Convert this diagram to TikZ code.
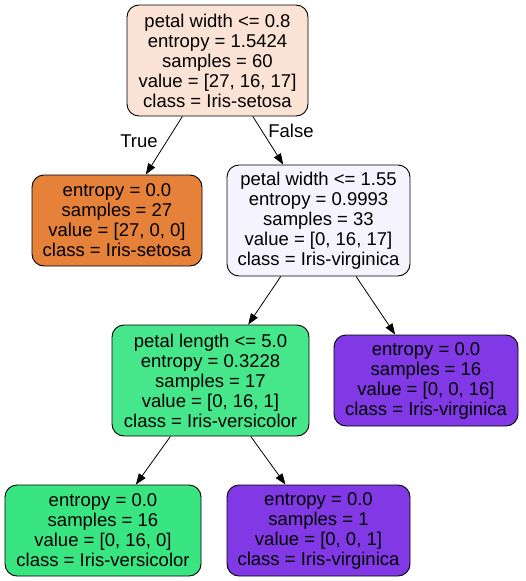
\documentclass[tikz,border=0pt]{standalone}
\usepackage{fontspec}
\setmainfont{Liberation Sans}
\usetikzlibrary{arrows.meta}
\definecolor{rootfill}{HTML}{FAE2D4}
\definecolor{setosa}{HTML}{E58139}
\definecolor{mixfill}{HTML}{F5F3FD}
\definecolor{mixgreen}{HTML}{46E78B}
\definecolor{versicolor}{HTML}{39E581}
\definecolor{virginica}{HTML}{8139E5}
\tikzset{
    treenode/.style={draw=black, line width=0.9pt, rounded corners=12pt,
        align=center, inner xsep=0pt, inner ysep=6.5pt,
        font=\fontsize{18.5}{20}\selectfont},
    split/.style={treenode, minimum height=111pt},
    leaf/.style={treenode, minimum height=91pt},
    edgelab/.style={font=\fontsize{18.5}{20}\selectfont, inner sep=0pt}
}
\begin{document}
\begin{tikzpicture}[x=1pt,y=-1pt,>={Triangle[length=11pt,width=8pt]},line width=0.8pt]
    \useasboundingbox (0,0) rectangle (525,581);
    % split nodes
    \node[split, fill=rootfill, minimum width=181pt] (root) at (217.5,60.5)
        {petal width <= 0.8\\entropy = 1.5424\\samples = 60\\value = [27, 16, 17]\\class = Iris-setosa};
    \node[split, fill=mixfill, minimum width=183pt] (pwidth) at (318.5,220.5)
        {petal width <= 1.55\\entropy = 0.9993\\samples = 33\\value = [0, 16, 17]\\class = Iris-virginica};
    \node[split, fill=mixgreen, minimum width=197pt] (plength) at (210.5,380.5)
        {petal length <= 5.0\\entropy = 0.3228\\samples = 17\\value = [0, 16, 1]\\class = Iris-versicolor};
    % leaves
    \node[leaf, fill=setosa, minimum width=170pt] (setosaleaf) at (117,220.5)
        {entropy = 0.0\\samples = 27\\value = [27, 0, 0]\\class = Iris-setosa};
    \node[leaf, fill=virginica, minimum width=184pt] (virgleaf) at (426,380.5)
        {entropy = 0.0\\samples = 16\\value = [0, 0, 16]\\class = Iris-virginica};
    \node[leaf, fill=versicolor, minimum width=196pt] (versleaf) at (103,530.5)
        {entropy = 0.0\\samples = 16\\value = [0, 16, 0]\\class = Iris-versicolor};
    \node[leaf, fill=virginica, minimum width=183pt] (virgone) at (318.5,530.5)
        {entropy = 0.0\\samples = 1\\value = [0, 0, 1]\\class = Iris-virginica};
    % edges
    \draw[->] (root)--(setosaleaf);
    \draw[->] (root)--(pwidth);
    \draw[->] (pwidth)--(plength);
    \draw[->] (pwidth)--(virgleaf);
    \draw[->] (plength)--(versleaf);
    \draw[->] (plength)--(virgone);
    \node[edgelab] (truelab) at (139,141){True};
    \node[edgelab] (falselab) at (291,131){False};
\end{tikzpicture}
\end{document}
